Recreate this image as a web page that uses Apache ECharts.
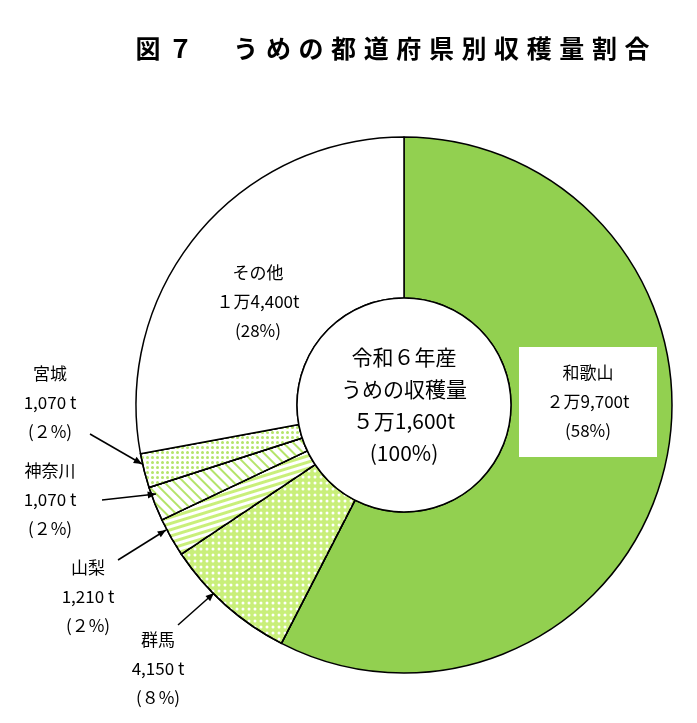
<!DOCTYPE html><html><head><meta charset="utf-8">
<script src="https://cdn.jsdelivr.net/npm/echarts@6/dist/echarts.min.js"></script>
<style>body{margin:0;background:#fff}#c{width:697px;height:723px}</style></head><body><div id="c"></div>
<script>
const categories=['和歌山','群馬','山梨','神奈川','宮城','その他'];
const values=[29700,4150,1210,1070,1070,14400];
const titleText='図７　うめの都道府県別収穫量割合';
const F='"Noto Sans CJK JP"';
const chart=echarts.init(document.getElementById('c'));
const dec=[
 null,
 {symbol:'circle',symbolSize:0.5,dashArrayX:[6,0],dashArrayY:[6,0],color:'#fff'},
 {symbol:'rect',symbolSize:1,dashArrayX:[1,0],dashArrayY:[3,3],rotation:-0.3,color:'#fff'},
 {symbol:'rect',symbolSize:1,dashArrayX:[1,0],dashArrayY:[2,5],rotation:0.785,color:'#b5e46a'},
 {symbol:'circle',symbolSize:0.6,dashArrayX:[5,0],dashArrayY:[5,0],color:'#b5e46a'},
 null];
const cols=['#92d050','#c9ef7a','#c9ef7a','#ffffff','#ffffff','#ffffff'];
const data=categories.map((n,i)=>{const d={name:n,value:values[i],itemStyle:{color:cols[i]}};if(dec[i])d.itemStyle.decal=dec[i];return d;});
const arrow=(x1,y1,x2,y2)=>{const a=Math.atan2(y2-y1,x2-x1),L=9;return [{type:'line',z:100,shape:{x1,y1,x2,y2},style:{stroke:'#000',lineWidth:1.5}},
 {type:'polygon',z:100,shape:{points:[[x2,y2],[x2-L*Math.cos(a-0.4),y2-L*Math.sin(a-0.4)],[x2-L*Math.cos(a+0.4),y2-L*Math.sin(a+0.4)]]},style:{fill:'#000'}}];};
const lbl=(x,y,s)=>({type:'text',z:100,x,y,style:{text:s,font:'17px '+F,lineHeight:29,align:'center',verticalAlign:'middle',fill:'#000'}});
const titleG=[...titleText].map((c,i)=>({type:'text',z:100,x:148+i*32.6,y:48,style:{text:c,font:'bold 25px '+F,align:'center',verticalAlign:'middle',fill:'#000'}}));
chart.setOption({
 series:[{type:'pie',center:[404,405],radius:[107,268],startAngle:90,clockwise:true,label:{show:false},labelLine:{show:false},
  itemStyle:{borderColor:'#000',borderWidth:1.5},emphasis:{disabled:true},silent:true,animation:false,data}],
 graphic:[...titleG,
  {type:'circle',z:100,shape:{cx:404,cy:405,r:107},style:{fill:'#fff',stroke:'#000',lineWidth:1.5}},
  {type:'text',z:101,x:404,y:405,style:{text:'令和６年産\nうめの収穫量\n５万1,600t\n(100%)',font:'21px '+F,lineHeight:32,align:'center',verticalAlign:'middle',fill:'#000'}},
  {type:'rect',z:100,shape:{x:519,y:347,width:138,height:110},style:{fill:'#fff'}},
  Object.assign(lbl(588,402,'和歌山\n２万9,700t\n(58%)'),{z:101}),
  lbl(258,302,'その他\n１万4,400t\n(28%)'),
  lbl(50,403,'宮城\n1,070 t\n(２%)'),
  lbl(50,500,'神奈川\n1,070 t\n(２%)'),
  lbl(88,597,'山梨\n1,210 t\n(２%)'),
  lbl(158,669,'群馬\n4,150 t\n(８%)'),
  ...arrow(90,434,142,464),...arrow(102,500,156,494),...arrow(118,560,166,530),...arrow(178,625,214,593)
 ]});
</script></body></html>
